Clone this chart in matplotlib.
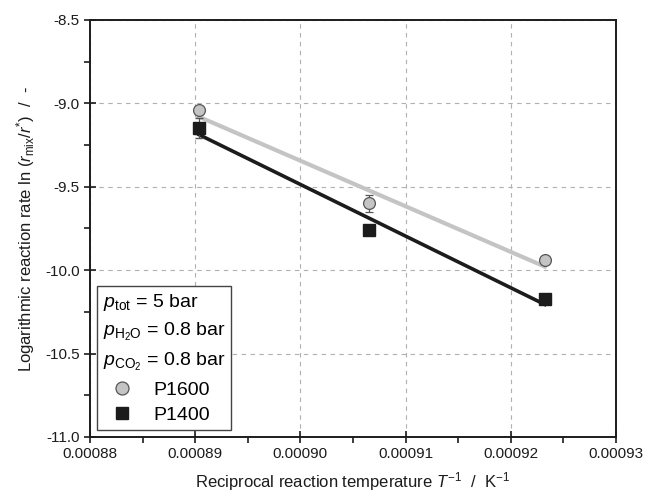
import matplotlib
matplotlib.use("Agg")
import matplotlib.pyplot as plt
import numpy as np
from matplotlib.ticker import FormatStrFormatter, MultipleLocator

plt.rcParams["font.family"] = ["Liberation Sans", "DejaVu Sans"]
plt.rcParams["mathtext.fontset"] = "custom"
plt.rcParams["mathtext.rm"] = "Liberation Sans"
plt.rcParams["mathtext.it"] = "Liberation Sans:italic"
plt.rcParams["mathtext.bf"] = "Liberation Sans:bold"

# reciprocal temperature 1/T in 1/K
inv_T = [1 / 1123.15, 1 / 1103.15, 1 / 1083.15]

p1600 = [-9.04, -9.60, -9.94]
p1600_err = [0.02, 0.05, 0.02]
p1400 = [-9.15, -9.76, -10.17]
p1400_err = [0.06, 0.02, 0.02]

xticks = [0.00088, 0.00089, 0.00090, 0.00091, 0.00092, 0.00093]
yticks = [-8.5, -9.0, -9.5, -10.0, -10.5, -11.0]

GRAY = "#c4c4c4"
DARK = "#1c1c1c"

fig = plt.figure(figsize=(6.46, 4.96), dpi=100)
ax = fig.add_axes([0.1393, 0.1190, 0.8143, 0.8407])

ax.set_xlim(xticks[0], xticks[-1])
ax.set_ylim(yticks[-1], yticks[0])
ax.set_xticks(xticks)
ax.set_yticks(yticks)
ax.xaxis.set_minor_locator(MultipleLocator(0.000005))
ax.yaxis.set_minor_locator(MultipleLocator(0.25))
ax.xaxis.set_major_formatter(FormatStrFormatter("%.5f"))
ax.yaxis.set_major_formatter(FormatStrFormatter("%.1f"))

ax.grid(True, which="major", color="#b0b0b0", linestyle=(0, (4, 4)), linewidth=0.8)
ax.set_axisbelow(True)

for s in ax.spines.values():
    s.set_linewidth(1.4)
    s.set_color(DARK)
ax.tick_params(which="major", direction="inout", length=8, width=1.2, labelsize=11, colors=DARK,
               top=False, right=False)
ax.tick_params(which="minor", direction="out", length=4, width=1.2, colors=DARK, top=False, right=False)

# linear fits
x = np.array(inv_T)
for ys, col, lw in [(p1600, GRAY, 3.0), (p1400, DARK, 2.6)]:
    k, d = np.polyfit(x, ys, 1)
    ax.plot(x, k * x + d, color=col, lw=lw, zorder=2)

ax.errorbar(inv_T, p1600, yerr=p1600_err, fmt="o", ms=8.5, mfc=GRAY, mec="#555555", mew=0.9,
            ecolor="#555555", elinewidth=0.9, capsize=3, zorder=4, label="P1600")
ax.errorbar(inv_T, p1400, yerr=p1400_err, fmt="s", ms=8, mfc=DARK, mec=DARK,
            ecolor="#555555", elinewidth=0.9, capsize=3, zorder=3, label="P1400")

title = ("$\\it{p}_{\\rm tot}$ = 5 bar\n"
         "$\\it{p}_{\\rm H_2O}$ = 0.8 bar\n"
         "$\\it{p}_{\\rm CO_2}$ = 0.8 bar")
handles, labels = ax.get_legend_handles_labels()
handles = [h[0] for h in handles]
leg = ax.legend(handles, labels, title=title, alignment="left", loc="lower left",
                bbox_to_anchor=(0.013, 0.017), borderaxespad=0, fancybox=False,
                edgecolor="#444444", framealpha=1, fontsize=14, title_fontsize=14,
                handletextpad=0.6, borderpad=0.3, labelspacing=0.4, handlelength=2.0,
                markerscale=1.1)
leg.get_frame().set_linewidth(1.0)
leg.get_title().set_linespacing(1.55)

ax.set_xlabel("Reciprocal reaction temperature $\\it{T}^{-1}$  /  K$^{-1}$", fontsize=12, color=DARK,
              labelpad=6)
ax.set_ylabel("Logarithmic reaction rate ln ($\\it{r}_{\\rm mix}$/$\\it{r}^{*}$)  /  -", fontsize=12,
              color=DARK, labelpad=6)

fig.savefig("out.png", dpi=100)
